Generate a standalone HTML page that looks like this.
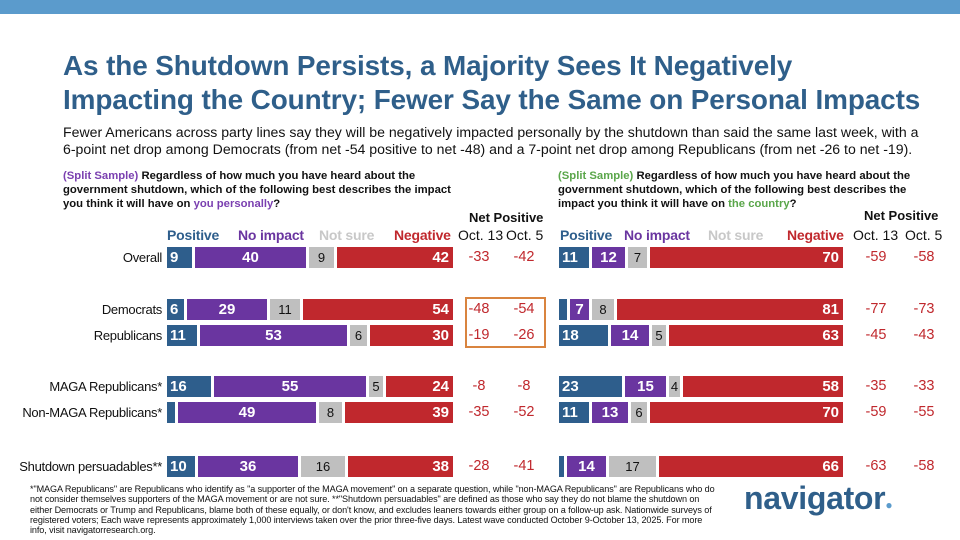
<!DOCTYPE html>
<html><head><meta charset="utf-8"><style>
*{margin:0;padding:0;box-sizing:border-box}
body{width:960px;height:540px;background:#fff;position:relative;overflow:hidden;font-family:"Liberation Sans",sans-serif;color:#111}
.a{position:absolute;white-space:nowrap}
.topbar{position:absolute;left:0;top:0;width:960px;height:14px;background:#5b9bcc}
.title{left:63px;top:49px;font-size:27.9px;font-weight:bold;color:#2f5f8a;line-height:34px;letter-spacing:-0.1px}
.sub{left:63px;top:124px;font-size:14.1px;line-height:17px}
.q{font-size:11.3px;font-weight:bold;line-height:14px;white-space:normal}
.row{position:absolute;display:flex;gap:3px;height:21px}
.row div{height:21px;font-size:15px;line-height:21px;color:#fff;font-weight:bold;overflow:visible;white-space:nowrap}
.p{background:#2e5e8c;padding-left:3px}
.n{background:#6a35a0;text-align:center}
.s{background:#bfbfbf;text-align:center;color:#111!important;font-weight:normal!important;font-size:13px!important}
.g{background:#c0282d;text-align:right;padding-right:4px}
.lab{font-size:13px;text-align:right;width:160px;line-height:21px;letter-spacing:-0.3px}
.net{font-size:14.5px;color:#c0282d;width:44px;text-align:center;line-height:21px}
.hd{font-size:14px;line-height:17px}
.leg{font-size:14px;font-weight:bold;line-height:17px;letter-spacing:-0.2px}
.foot{left:30px;top:484px;font-size:9.1px;line-height:10.3px;white-space:normal;width:690px;letter-spacing:-0.1px}
</style></head><body>
<div class="topbar"></div>
<div class="a title">As the Shutdown Persists, a Majority Sees It Negatively<br>Impacting the Country; Fewer Say the Same on Personal Impacts</div>
<div class="a sub">Fewer Americans across party lines say they will be negatively impacted personally by the shutdown than said the same last week, with a<br>6-point net drop among Democrats (from net -54 positive to net -48) and a 7-point net drop among Republicans (from net -26 to net -19).</div>

<div class="a q" style="left:63px;top:169px;width:405px"><span style="color:#7a3fb0">(Split Sample)</span> Regardless of how much you have heard about the government shutdown, which of the following best describes the impact you think it will have on <span style="color:#7a3fb0">you personally</span>?</div>
<div class="a q" style="left:558px;top:169px;width:360px"><span style="color:#5aa64a">(Split Sample)</span> Regardless of how much you have heard about the government shutdown, which of the following best describes the impact you think it will have on <span style="color:#5aa64a">the country</span>?</div>

<div class="a hd" style="left:469px;top:209px;font-weight:bold;font-size:13px">Net Positive</div>
<div class="a hd" style="left:458px;top:227px">Oct. 13</div>
<div class="a hd" style="left:506px;top:227px">Oct. 5</div>
<div class="a leg" style="left:167px;top:227px;color:#2e5e8c">Positive</div>
<div class="a leg" style="left:238px;top:227px;color:#6a35a0">No impact</div>
<div class="a leg" style="left:319px;top:227px;color:#c8c8c8">Not sure</div>
<div class="a leg" style="left:394px;top:227px;color:#c0282d">Negative</div>
<div class="a hd" style="left:864px;top:207px;font-weight:bold;font-size:13px">Net Positive</div>
<div class="a hd" style="left:853px;top:227px">Oct. 13</div>
<div class="a hd" style="left:905px;top:227px">Oct. 5</div>
<div class="a leg" style="left:560px;top:227px;color:#2e5e8c">Positive</div>
<div class="a leg" style="left:624px;top:227px;color:#6a35a0">No impact</div>
<div class="a leg" style="left:708px;top:227px;color:#c8c8c8">Not sure</div>
<div class="a leg" style="left:787px;top:227px;color:#c0282d">Negative</div>

<div class="a lab" style="left:2px;top:247px">Overall</div>
<div class="a lab" style="left:2px;top:299px">Democrats</div>
<div class="a lab" style="left:2px;top:325px">Republicans</div>
<div class="a lab" style="left:2px;top:376px">MAGA Republicans*</div>
<div class="a lab" style="left:2px;top:402px">Non-MAGA Republicans*</div>
<div class="a lab" style="left:2px;top:456px">Shutdown persuadables**</div>

<div class="row" style="left:167px;top:247px"><div class="p" style="width:25px">9</div><div class="n" style="width:111px">40</div><div class="s" style="width:25px">9</div><div class="g" style="width:116px">42</div></div>
<div class="row" style="left:167px;top:299px"><div class="p" style="width:17px">6</div><div class="n" style="width:80px">29</div><div class="s" style="width:30px">11</div><div class="g" style="width:150px">54</div></div>
<div class="row" style="left:167px;top:325px"><div class="p" style="width:30px">11</div><div class="n" style="width:147px">53</div><div class="s" style="width:17px">6</div><div class="g" style="width:83px">30</div></div>
<div class="row" style="left:167px;top:376px"><div class="p" style="width:44px">16</div><div class="n" style="width:152px">55</div><div class="s" style="width:14px">5</div><div class="g" style="width:67px">24</div></div>
<div class="row" style="left:167px;top:402px"><div class="p" style="width:8px;padding:0"></div><div class="n" style="width:138px">49</div><div class="s" style="width:23px">8</div><div class="g" style="width:108px">39</div></div>
<div class="row" style="left:167px;top:456px"><div class="p" style="width:28px">10</div><div class="n" style="width:100px">36</div><div class="s" style="width:44px">16</div><div class="g" style="width:105px">38</div></div>

<div class="row" style="left:559px;top:247px"><div class="p" style="width:30px">11</div><div class="n" style="width:33px">12</div><div class="s" style="width:19px">7</div><div class="g" style="width:193px">70</div></div>
<div class="row" style="left:559px;top:299px"><div class="p" style="width:8px;padding:0"></div><div class="n" style="width:19px">7</div><div class="s" style="width:22px">8</div><div class="g" style="width:226px">81</div></div>
<div class="row" style="left:559px;top:325px"><div class="p" style="width:49px">18</div><div class="n" style="width:38px">14</div><div class="s" style="width:14px">5</div><div class="g" style="width:174px">63</div></div>
<div class="row" style="left:559px;top:376px"><div class="p" style="width:63px">23</div><div class="n" style="width:41px">15</div><div class="s" style="width:11px">4</div><div class="g" style="width:160px">58</div></div>
<div class="row" style="left:559px;top:402px"><div class="p" style="width:30px">11</div><div class="n" style="width:36px">13</div><div class="s" style="width:16px">6</div><div class="g" style="width:193px">70</div></div>
<div class="row" style="left:559px;top:456px"><div class="p" style="width:5px;padding:0"></div><div class="n" style="width:39px">14</div><div class="s" style="width:47px">17</div><div class="g" style="width:184px">66</div></div>

<div class="a net" style="left:457px;top:247px">-33</div><div class="a net" style="left:502px;top:247px">-42</div>
<div class="a net" style="left:457px;top:299px">-48</div><div class="a net" style="left:502px;top:299px">-54</div>
<div class="a net" style="left:457px;top:325px">-19</div><div class="a net" style="left:502px;top:325px">-26</div>
<div class="a net" style="left:457px;top:376px">-8</div><div class="a net" style="left:502px;top:376px">-8</div>
<div class="a net" style="left:457px;top:402px">-35</div><div class="a net" style="left:502px;top:402px">-52</div>
<div class="a net" style="left:457px;top:456px">-28</div><div class="a net" style="left:502px;top:456px">-41</div>
<div class="a" style="left:465px;top:297px;width:81px;height:51px;border:2px solid #d9843f"></div>
<div class="a net" style="left:854px;top:247px">-59</div><div class="a net" style="left:902px;top:247px">-58</div>
<div class="a net" style="left:854px;top:299px">-77</div><div class="a net" style="left:902px;top:299px">-73</div>
<div class="a net" style="left:854px;top:325px">-45</div><div class="a net" style="left:902px;top:325px">-43</div>
<div class="a net" style="left:854px;top:376px">-35</div><div class="a net" style="left:902px;top:376px">-33</div>
<div class="a net" style="left:854px;top:402px">-59</div><div class="a net" style="left:902px;top:402px">-55</div>
<div class="a net" style="left:854px;top:456px">-63</div><div class="a net" style="left:902px;top:456px">-58</div>

<div class="a foot">*"MAGA Republicans" are Republicans who identify as "a supporter of the MAGA movement" on a separate question, while "non-MAGA Republicans" are Republicans who do not consider themselves supporters of the MAGA movement or are not sure. **"Shutdown persuadables" are defined as those who say they do not blame the shutdown on either Democrats or Trump and Republicans, blame both of these equally, or don't know, and excludes leaners towards either group on a follow-up ask. Nationwide surveys of registered voters; Each wave represents approximately 1,000 interviews taken over the prior three-five days. Latest wave conducted October 9-October 13, 2025. For more info, visit navigatorresearch.org.</div>
<div class="a" style="left:744px;top:480px;font-size:32px;font-weight:bold;color:#2f5f8a;letter-spacing:-0.3px;line-height:36px">navigator<span style="color:#5b9bcc;font-size:12px">&#9679;</span></div>
</body></html>
